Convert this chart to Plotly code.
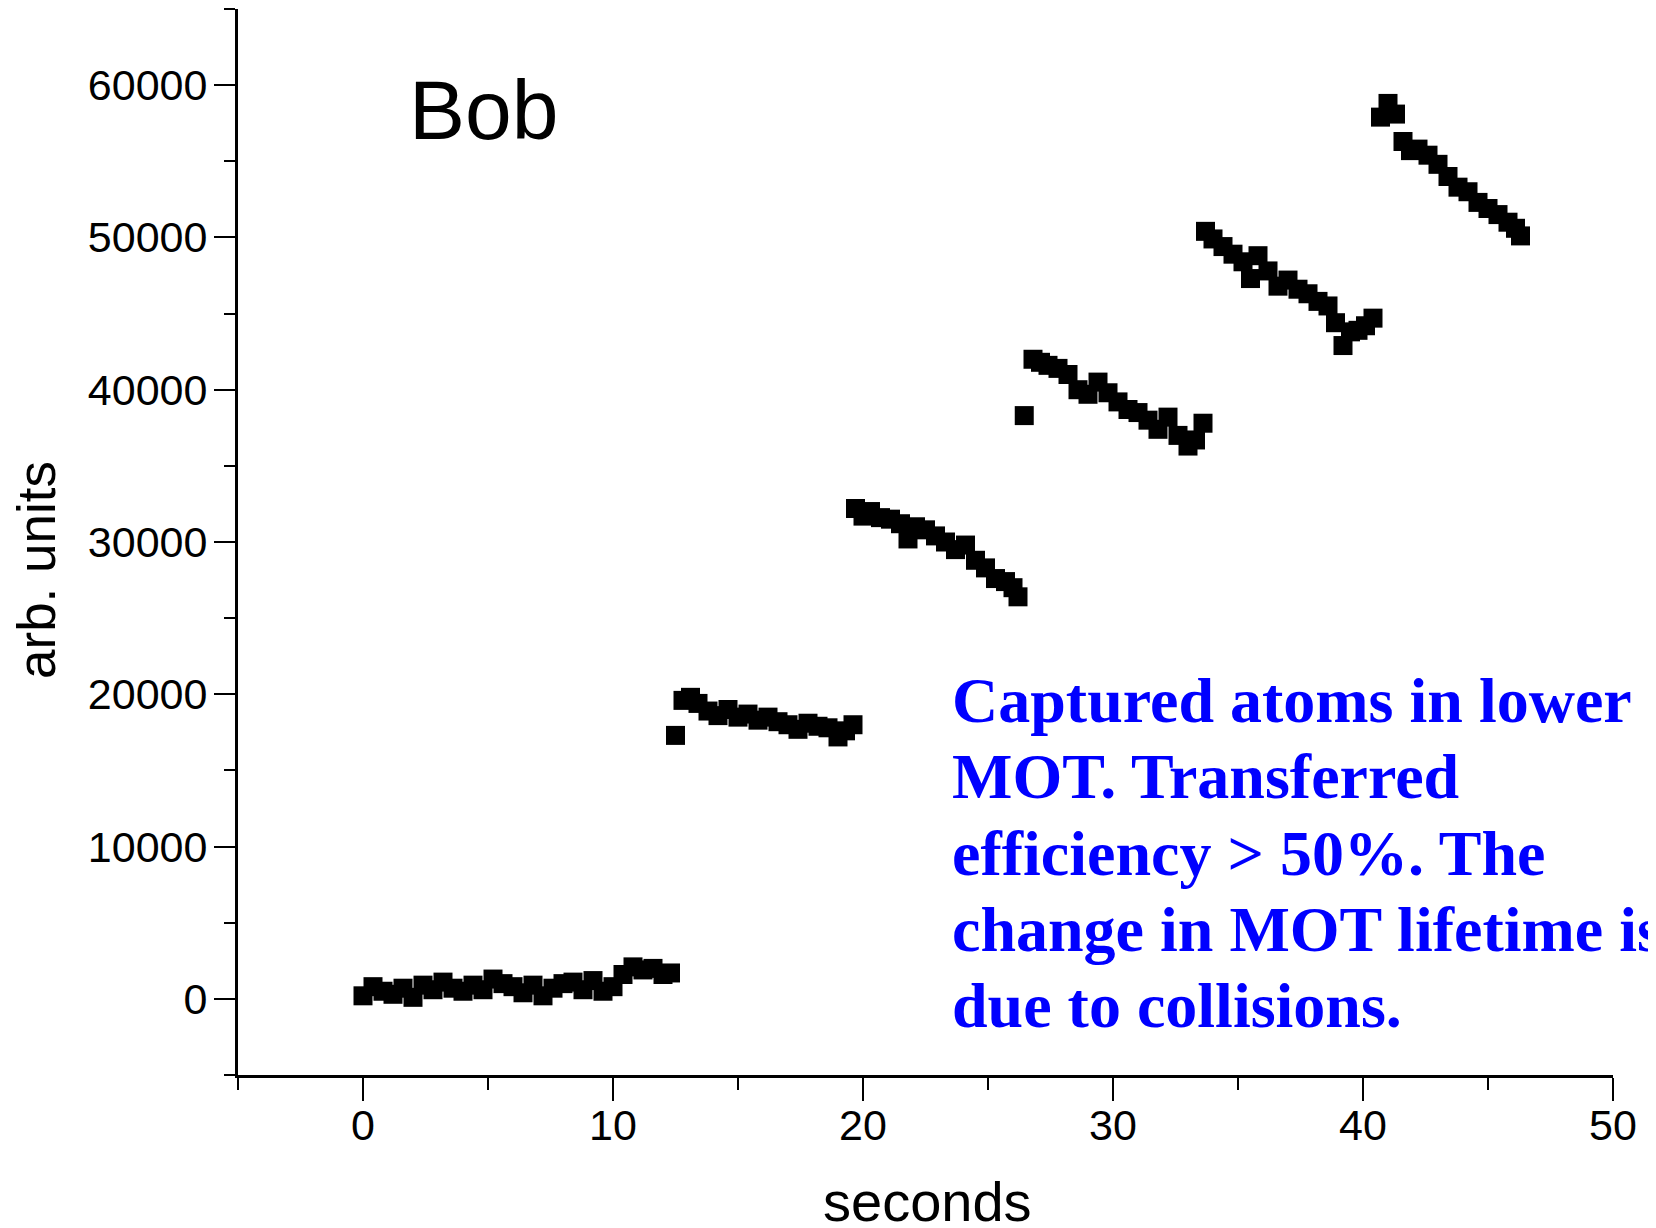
import plotly.graph_objects as go

# ---- data ----
t_seg1 = [0.0, 0.4, 0.8, 1.2, 1.6, 2.0, 2.4, 2.8, 3.2, 3.6, 4.0, 4.4, 4.8, 5.2, 5.6, 6.0,
          6.4, 6.8, 7.2, 7.6, 8.0, 8.4, 8.8, 9.2, 9.6, 10.0, 10.4, 10.8, 11.2, 11.6, 12.0, 12.3]
v_seg1 = [200, 800, 500, 300, 700, 100, 900, 600, 1100, 700, 500, 900, 600, 1300, 1000, 800,
          400, 900, 200, 700, 1000, 1100, 600, 1200, 500, 800, 1600, 2100, 1900, 2000, 1600, 1700]

t_seg2 = [12.5, 12.8, 13.1, 13.4, 13.8, 14.2, 14.6, 15.0, 15.4, 15.8, 16.2, 16.6, 17.0, 17.4,
          17.8, 18.2, 18.6, 19.0, 19.3, 19.6]
v_seg2 = [17300, 19600, 19800, 19400, 18900, 18600, 19000, 18500, 18700, 18300, 18500, 18200,
          18000, 17700, 18100, 17900, 17800, 17200, 17600, 18000]

t_seg3 = [19.7, 20.0, 20.3, 20.7, 21.1, 21.5, 21.8, 22.1, 22.5, 22.9, 23.3, 23.7, 24.1, 24.5,
          24.9, 25.3, 25.7, 26.0, 26.2]
v_seg3 = [32200, 31700, 32000, 31600, 31500, 31200, 30200, 31000, 30800, 30400, 30000, 29500,
          29800, 28800, 28300, 27600, 27400, 27000, 26400]

t_seg4 = [26.45, 26.8, 27.1, 27.4, 27.8, 28.2, 28.6, 29.0, 29.4, 29.8, 30.2, 30.6, 31.0, 31.4,
          31.8, 32.2, 32.6, 33.0, 33.3, 33.6]
v_seg4 = [38300, 42000, 41800, 41600, 41400, 41000, 40000, 39700, 40500, 39800, 39200, 38700,
          38500, 38000, 37400, 38200, 37000, 36300, 36700, 37800]

t_seg5 = [33.7, 34.0, 34.4, 34.8, 35.2, 35.5, 35.8, 36.2, 36.6, 37.0, 37.4, 37.8, 38.2, 38.6,
          38.9, 39.2, 39.5, 39.8, 40.1, 40.4]
v_seg5 = [50400, 49900, 49400, 48900, 48400, 47300, 48800, 47800, 46800, 47200, 46600, 46300,
          45800, 45500, 44400, 42900, 43800, 43900, 44200, 44700]

t_seg6 = [40.7, 41.0, 41.3, 41.6, 41.9, 42.2, 42.6, 43.0, 43.4, 43.8, 44.2, 44.6, 45.0, 45.4,
          45.8, 46.1, 46.3]
v_seg6 = [57900, 58800, 58100, 56300, 55700, 55800, 55400, 54800, 54000, 53300, 53000, 52300,
          51900, 51500, 51000, 50600, 50100]

x_ticks = [0, 10, 20, 30, 40, 50]
y_ticks = [0, 10000, 20000, 30000, 40000, 50000, 60000]

label_text = "Bob"
note_lines = [
    "Captured atoms in lower",
    "MOT. Transferred",
    "efficiency > 50%. The",
    "change in MOT lifetime is",
    "due to collisions.",
]

seconds = t_seg1 + t_seg2 + t_seg3 + t_seg4 + t_seg5 + t_seg6
signal = v_seg1 + v_seg2 + v_seg3 + v_seg4 + v_seg5 + v_seg6

# ---- figure (page has an 8px body offset) ----
OFF = 8
W, H = 1648, 1220
ML, MR, MT, MB = 230, 43, 1, 153
PW, PH = W - ML - MR, H - MT - MB


def px_x(px):
    return (px - OFF - ML) / PW


def px_y(py):
    return 1 - (py - OFF - MT) / PH


fig = go.Figure()
fig.add_trace(go.Scatter(
    x=seconds, y=signal, mode="markers",
    marker=dict(symbol="square", size=19, color="black", line=dict(width=0)),
    showlegend=False,
))

sans = "Liberation Sans, Arial, sans-serif"
serif = "Liberation Serif, Times New Roman, serif"

fig.update_layout(
    width=W, height=H,
    margin=dict(l=ML, r=MR, t=MT, b=MB, pad=0),
    paper_bgcolor="white", plot_bgcolor="white",
    font=dict(family=sans, color="black"),
    xaxis=dict(
        range=[-5, 50], tickvals=x_ticks, ticktext=[str(v) for v in x_ticks],
        ticks="outside", ticklen=23, tickwidth=2, tickcolor="black",
        minor=dict(dtick=5, tick0=0, ticks="outside", ticklen=12, tickwidth=2, tickcolor="black"),
        showline=True, linewidth=3, linecolor="black", mirror=False,
        showgrid=False, zeroline=False,
        tickfont=dict(family=sans, size=43, color="black"),
        ticklabelstandoff=-13,
    ),
    yaxis=dict(
        range=[-5000, 65000], tickvals=y_ticks, ticktext=[str(v) for v in y_ticks],
        ticks="outside", ticklen=21, tickwidth=2, tickcolor="black",
        minor=dict(dtick=5000, tick0=0, ticks="outside", ticklen=11, tickwidth=2, tickcolor="black"),
        showline=True, linewidth=3, linecolor="black", mirror=False,
        showgrid=False, zeroline=False,
        tickfont=dict(family=sans, size=43, color="black"),
        ticklabelstandoff=-2,
    ),
)

annotations = [
    dict(text=label_text, xref="paper", yref="paper", x=px_x(407), y=px_y(110),
         xanchor="left", yanchor="middle", showarrow=False,
         font=dict(family=sans, size=84, color="black")),
    dict(text="seconds", xref="paper", yref="paper", x=px_x(927), y=px_y(1201),
         xanchor="center", yanchor="middle", showarrow=False,
         font=dict(family=sans, size=56, color="black")),
    dict(text="arb. units", xref="paper", yref="paper", x=px_x(36), y=px_y(570),
         xanchor="center", yanchor="middle", showarrow=False, textangle=-90,
         font=dict(family=sans, size=53, color="black")),
]
line_centers = [700, 776, 853, 929, 1005]
for txt, cy in zip(note_lines, line_centers):
    annotations.append(dict(
        text="<b>" + txt + "</b>", xref="paper", yref="paper", x=px_x(950), y=px_y(cy),
        xanchor="left", yanchor="middle", showarrow=False,
        font=dict(family=serif, size=64, color="#0000ff"),
    ))
fig.update_layout(annotations=annotations)

fig.write_html("out.html")
